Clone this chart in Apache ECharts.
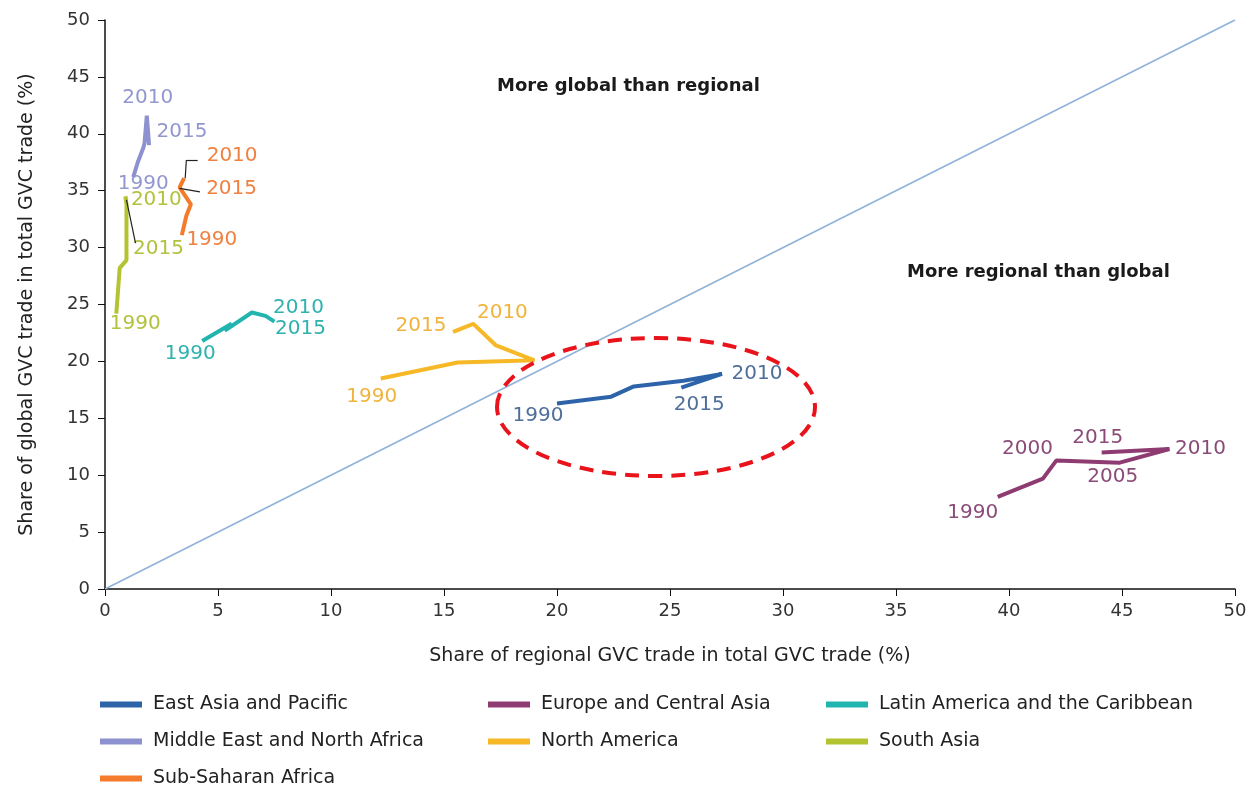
<html>
<head>
<meta charset="utf-8" />
<script src="https://cdn.jsdelivr.net/npm/echarts@6/dist/echarts.min.js"></script>
<style>
    html, body { margin: 0; padding: 0; background: #fff; }
    #chart { width: 1252px; height: 789px; }
</style>
</head>
<body>
<div id="chart"></div>
<script>
// ---- data ----
var years = [1990, 1995, 2000, 2005, 2010, 2015];

var regions = ['East Asia and Pacific', 'Europe and Central Asia', 'Latin America and the Caribbean',
    'Middle East and North Africa', 'North America', 'South Asia', 'Sub-Saharan Africa'];

// regional share (x) and global share (y), one value per year
var eapX = [20.0, 22.4, 23.4, 25.6, 27.3, 25.5];
var eapY = [16.3, 16.9, 17.8, 18.3, 18.9, 17.7];
var ecaX = [39.5, 41.5, 42.1, 44.9, 47.1, 44.1];
var ecaY = [8.1, 9.7, 11.3, 11.1, 12.3, 12.0];
var lacX = [4.3, 5.6, 5.3, 6.5, 7.1, 7.5];
var lacY = [21.8, 23.3, 22.7, 24.3, 24.0, 23.5];
var menaX = [1.25, 1.45, 1.7, 1.75, 1.85, 1.95];
var menaY = [36.2, 37.5, 38.8, 39.2, 41.6, 39.0];
var naX = [12.2, 15.6, 19.0, 17.3, 16.3, 15.4];
var naY = [18.5, 19.9, 20.1, 21.4, 23.3, 22.6];
var saX = [0.5, 0.65, 0.95, 0.95, 0.9, 0.95];
var saY = [24.2, 28.2, 28.9, 33.8, 34.5, 34.2];
var ssaX = [3.4, 3.6, 3.8, 3.3, 3.5, 3.3];
var ssaY = [31.1, 32.8, 33.8, 35.3, 36.1, 35.3];

var labelledYears = [
    [1990, 2010, 2015],
    [1990, 2000, 2005, 2010, 2015],
    [1990, 2010, 2015],
    [1990, 2010, 2015],
    [1990, 2010, 2015],
    [1990, 2010, 2015],
    [1990, 2010, 2015]
];

// ---- styling ----
var colors = ['#2d63a8', '#8e3b72', '#22b5b0', '#8d91cf', '#f6b826', '#b4c431', '#f47a2c'];
var labelColors = ['#4f6f9a', '#8a4b78', '#2fb2ae', '#9297cf', '#f0b43c', '#b3c23c', '#f08140'];

// label offsets from the point (pixels), per series and year
var labelOffsets = [
    { 1990: [-19, 12], 2010: [35, 0], 2015: [18, 17] },
    { 1990: [-25, 16], 2000: [-29, -12], 2005: [-7, 14], 2010: [31, 0], 2015: [-4, -15] },
    { 1990: [-12, 13], 2010: [33, -8], 2015: [26, 7] },
    { 1990: [10, 7], 2010: [1, -18], 2015: [33, -13] },
    { 1990: [-9, 18], 2010: [29, -11], 2015: [-32, -6] },
    { 1990: [19, 10], 2010: [31, 3], 2015: [32, 49] },
    { 1990: [30, 5], 2010: [48, -22], 2015: [52, 2] }
];

// black leader lines for crowded labels
var leaderLines = {
    5: [[[0.95, 34.2], [1.35, 30.4]]],
    6: [[[3.55, 36.1], [3.6, 37.7]], [[3.6, 37.7], [4.1, 37.7]], [[3.3, 35.2], [4.2, 34.9]]]
};

var xs = [eapX, ecaX, lacX, menaX, naX, saX, ssaX];
var ys = [eapY, ecaY, lacY, menaY, naY, saY, ssaY];

var font = 'DejaVu Sans';

var series = regions.map(function (name, i) {
    var data = years.map(function (yr, k) {
        var item = { value: [xs[i][k], ys[i][k]] };
        if (labelledYears[i].indexOf(yr) >= 0) {
            item.label = {
                show: true,
                position: 'inside',
                offset: labelOffsets[i][yr],
                formatter: String(yr)
            };
        }
        return item;
    });
    var s = {
        name: name,
        type: 'line',
        data: data,
        symbol: 'circle',
        symbolSize: 0,
        showSymbol: true,
        z: 3,
        lineStyle: { color: colors[i], width: 4 },
        itemStyle: { color: colors[i] },
        label: {
            show: false,
            color: labelColors[i],
            fontFamily: font,
            fontSize: 20
        },
        emphasis: { disabled: true },
        animation: false
    };
    if (leaderLines[i]) {
        s.markLine = {
            silent: true,
            symbol: 'none',
            animation: false,
            label: { show: false },
            lineStyle: { color: '#222', width: 1.2, type: 'solid' },
            data: leaderLines[i].map(function (seg) {
                return [{ coord: seg[0] }, { coord: seg[1] }];
            })
        };
    }
    return s;
});

// 45 degree reference line
series.unshift({
    name: 'diagonal',
    type: 'line',
    data: [[0, 0], [50, 50]],
    symbol: 'none',
    z: 1,
    lineStyle: { color: '#8fb2d9', width: 1.5 },
    animation: false
});

var legendText = { fontFamily: font, fontSize: 19, color: '#222', padding: [0, 0, 0, 6] };
function legendCol(names, left) {
    return {
        data: names,
        orient: 'vertical',
        left: left,
        top: 695,
        padding: 0,
        itemWidth: 42,
        itemHeight: 6,
        itemGap: 18,
        icon: 'rect',
        selectedMode: false,
        textStyle: legendText
    };
}

var chart = echarts.init(document.getElementById('chart'));
chart.setOption({
    backgroundColor: '#fff',
    animation: false,
    grid: { left: 105, right: 17, top: 20, bottom: 200 },
    legend: [
        legendCol([regions[0], regions[3], regions[6]], 100),
        legendCol([regions[1], regions[4]], 488),
        legendCol([regions[2], regions[5]], 826)
    ],
    xAxis: {
        type: 'value',
        min: 0, max: 50, interval: 5,
        name: 'Share of regional GVC trade in total GVC trade (%)',
        nameLocation: 'middle',
        nameGap: 58,
        nameTextStyle: { fontFamily: font, fontSize: 19, color: '#222' },
        axisLine: { lineStyle: { color: '#111', width: 1.5 } },
        axisTick: { show: true, length: 7, lineStyle: { color: '#111' } },
        axisLabel: { fontFamily: font, fontSize: 18, color: '#333', margin: 13 },
        splitLine: { show: false }
    },
    yAxis: {
        type: 'value',
        min: 0, max: 50, interval: 5,
        name: 'Share of global GVC trade in total GVC trade (%)',
        nameLocation: 'middle',
        nameGap: 68,
        nameTextStyle: { fontFamily: font, fontSize: 19, color: '#222' },
        axisLine: { show: true, lineStyle: { color: '#111', width: 1.5 } },
        axisTick: { show: true, length: 7, lineStyle: { color: '#111' } },
        axisLabel: { fontFamily: font, fontSize: 18, color: '#333', margin: 15 },
        splitLine: { show: false }
    },
    graphic: [
        {
            type: 'text', left: 497, top: 77, z: 10,
            style: { text: 'More global than regional', fontFamily: font, fontWeight: 'bold', fontSize: 18, fill: '#1a1a1a' }
        },
        {
            type: 'text', left: 907, top: 263, z: 10,
            style: { text: 'More regional than global', fontFamily: font, fontWeight: 'bold', fontSize: 18, fill: '#1a1a1a' }
        },
        {
            type: 'ellipse', z: 10,
            shape: { cx: 656, cy: 407, rx: 159, ry: 69 },
            style: { fill: null, stroke: '#e8131b', lineWidth: 4, lineDash: [14, 9] }
        }
    ],
    series: series
});
</script>
</body>
</html>
